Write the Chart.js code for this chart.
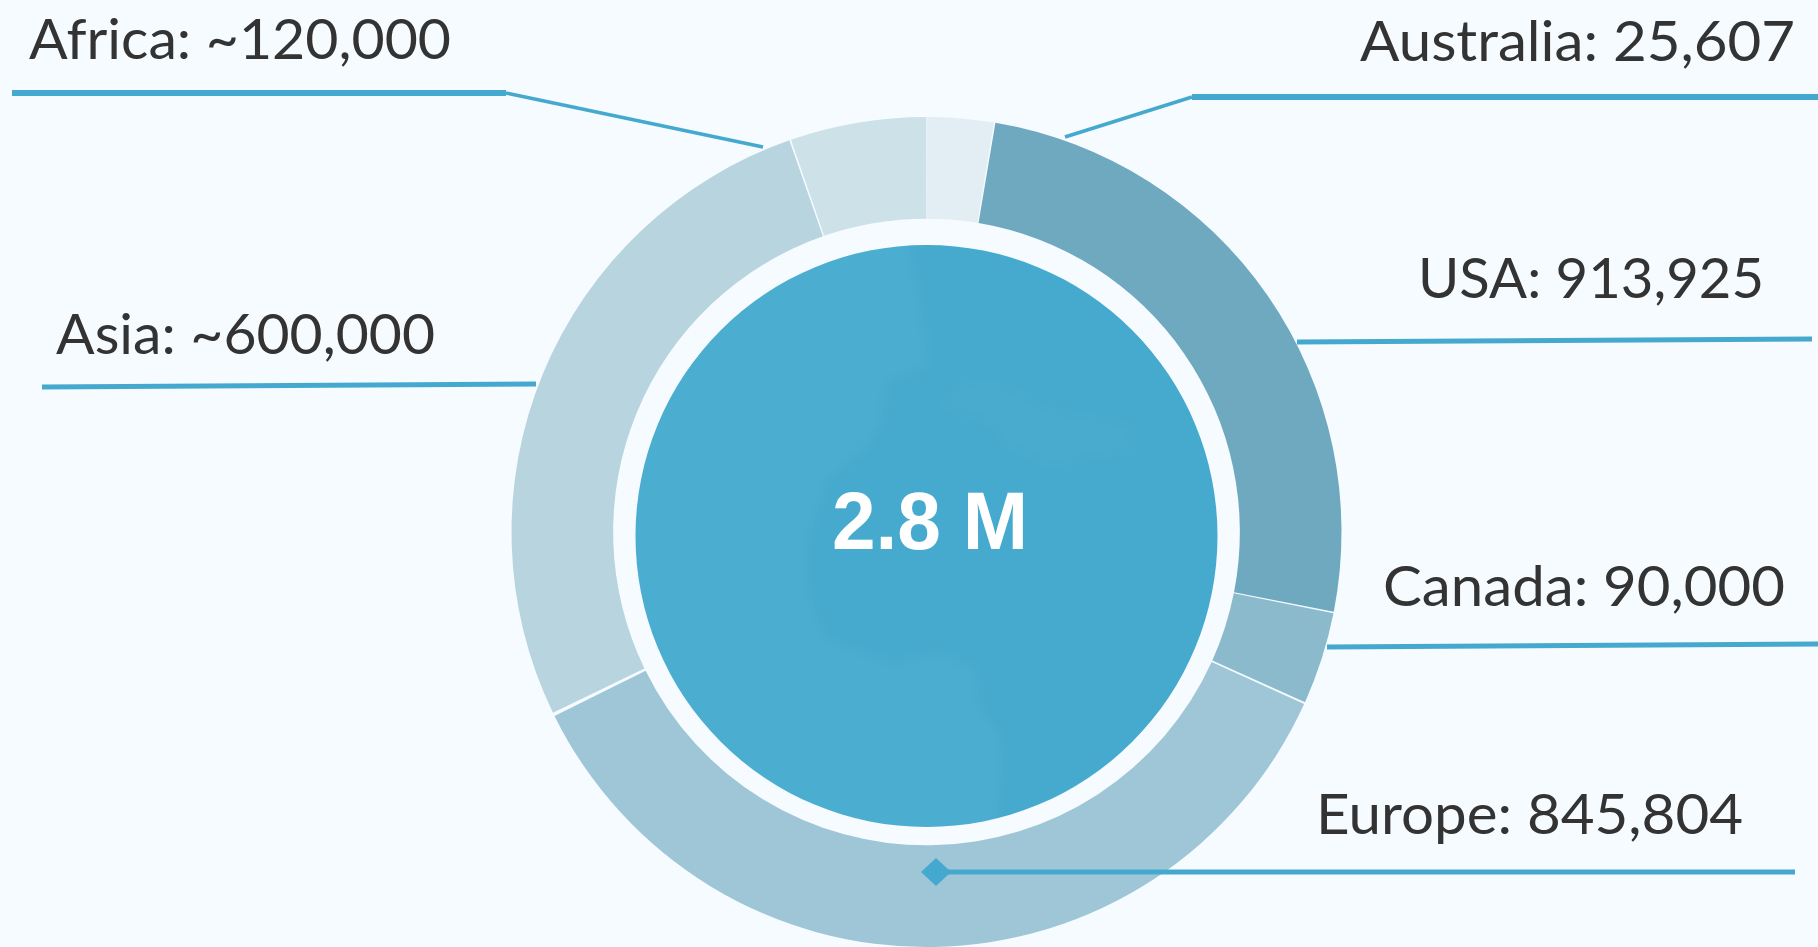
<!DOCTYPE html>
<html>
<head>
<meta charset="utf-8">
<title>2.8 M by region</title>
<script src="https://cdn.jsdelivr.net/npm/chart.js@4/dist/chart.umd.min.js"></script>
<style>
  html, body { margin: 0; padding: 0; background: #f5fbfe; overflow: hidden; }
  canvas { display: block; }
</style>
</head>
<body>
<canvas id="chart" width="1818" height="947"></canvas>
<script>
  const REGIONS = ["Australia", "USA", "Canada", "Europe", "Asia", "Africa"];
  // Arc shares as drawn in the picture (percent of the ring); they don't follow the printed numbers.
  const ARC_SHARES = [2.6, 25.5, 3.6, 36.0, 26.9, 5.3];
  const PRINTED_VALUES = ["25,607", "913,925", "90,000", "845,804", "~600,000", "~120,000"];
  const ARC_COLORS = ["#e3eef4", "#6fa9c0", "#8cbacd", "#9fc6d6", "#b8d4df", "#cde1e9"];
  const TOTAL_LABEL = "2.8 M";

  const LINE_COLOR = "#45a9cf";
  const TEXT_COLOR = "#333333";
  const DISC_COLOR = "#45aace";
  // The disc in the reference sits a little below the ring's centre.
  const DISC_NUDGE_Y = 4;

  // Callout geometry, same order as REGIONS. Text: left, right, baseline.
  const CALLOUT_TEXT = [
    [1360, 1795, 61], [1418, 1764, 298], [1383, 1785, 606],
    [1316, 1743, 834], [56, 435, 354], [29, 451, 59],
  ];
  const CALLOUT_LINES = [
    [[[1818, 97], [1192, 97]], [[1192, 97], [1065, 137]]],
    [[[1812, 339], [1297, 342]]],
    [[[1818, 644], [1327, 647]]],
    [[[1795, 872], [936, 872]]],
    [[[42, 387], [536, 384]]],
    [[[12, 93], [506, 93]], [[506, 93], [763, 147]]],
  ];
  const LINE_WIDTHS = [[6, 3.5], [5], [5], [5], [5], [6, 3.5]];
  const EUROPE_DIAMOND = { x: 936, y: 872, rx: 15, ry: 14 };
  const TOTAL_BOX = [832, 1028, 549];

  // Faint map behind the total, traced by eye.
  const MAP_OCEAN = [
    [600, 200], [900, 200], [923, 300], [931, 369], [888, 384], [885, 419], [869, 449], [830, 480],
    [811, 541], [811, 587], [826, 637], [892, 660], [939, 650], [978, 667], [982, 706],
    [1003, 736], [1005, 771], [994, 860], [600, 860],
  ];
  const MAP_SEA = [
    [935, 407], [962, 382], [1009, 384], [1048, 407], [1134, 422], [1134, 453], [1048, 468],
    [997, 442], [993, 426],
  ];

  function fitText(ctx, text, left, right, baseline) {
    const w = ctx.measureText(text).width;
    ctx.save();
    ctx.translate(left, baseline);
    ctx.scale((right - left) / w, 1);
    ctx.fillText(text, 0, 0);
    ctx.restore();
  }

  function fillShape(ctx, pts) {
    ctx.beginPath();
    pts.forEach((p, i) => (i ? ctx.lineTo(p[0], p[1]) : ctx.moveTo(p[0], p[1])));
    ctx.closePath();
    ctx.fill();
  }

  const mapPlugin = {
    id: "discMap",
    afterDatasetsUpdate(chart) {
      chart.getDatasetMeta(2).data[0].y += DISC_NUDGE_Y;
    },
    afterDatasetsDraw(chart) {
      const ctx = chart.ctx;
      const disc = chart.getDatasetMeta(2).data[0];
      ctx.save();
      ctx.beginPath();
      ctx.arc(disc.x, disc.y, disc.outerRadius, 0, Math.PI * 2);
      ctx.clip();
      ctx.filter = "blur(6px)";
      ctx.fillStyle = "rgba(255,255,255,0.035)";
      fillShape(ctx, MAP_OCEAN);
      ctx.fillStyle = "rgba(255,255,255,0.025)";
      fillShape(ctx, MAP_SEA);
      ctx.restore();
    },
  };

  const calloutPlugin = {
    id: "callouts",
    afterDraw(chart) {
      const ctx = chart.ctx;
      ctx.save();
      ctx.strokeStyle = LINE_COLOR;
      ctx.lineCap = "butt";
      CALLOUT_LINES.forEach((segments, i) => {
        segments.forEach((seg, j) => {
          ctx.lineWidth = LINE_WIDTHS[i][j];
          ctx.beginPath();
          ctx.moveTo(seg[0][0], seg[0][1]);
          ctx.lineTo(seg[1][0], seg[1][1]);
          ctx.stroke();
        });
      });

      const d = EUROPE_DIAMOND;
      ctx.fillStyle = LINE_COLOR;
      ctx.beginPath();
      ctx.moveTo(d.x - d.rx, d.y);
      ctx.lineTo(d.x, d.y - d.ry);
      ctx.lineTo(d.x + d.rx, d.y);
      ctx.lineTo(d.x, d.y + d.ry);
      ctx.closePath();
      ctx.fill();

      ctx.textAlign = "left";
      ctx.textBaseline = "alphabetic";
      ctx.fillStyle = TEXT_COLOR;
      ctx.font = '57px Lato';
      REGIONS.forEach((name, i) => {
        const t = CALLOUT_TEXT[i];
        fitText(ctx, `${name}: ${PRINTED_VALUES[i]}`, t[0], t[1], t[2]);
      });

      ctx.fillStyle = "#ffffff";
      ctx.font = 'bold 81px "Liberation Sans"';
      fitText(ctx, TOTAL_LABEL, TOTAL_BOX[0], TOTAL_BOX[1], TOTAL_BOX[2]);
      ctx.restore();
    },
  };

  new Chart(document.getElementById("chart"), {
    type: "doughnut",
    data: {
      labels: REGIONS,
      datasets: [
        { label: "Regions", data: ARC_SHARES, backgroundColor: ARC_COLORS, borderWidth: 0, spacing: 3, weight: 102 },
        { label: "Gap", data: [1], backgroundColor: "rgba(0,0,0,0)", borderWidth: 0, weight: 22 },
        { label: "Total", data: [1], backgroundColor: DISC_COLOR, borderWidth: 0, weight: 291 },
      ],
    },
    options: {
      responsive: false,
      animation: false,
      cutout: 0,
      rotation: 0,
      layout: { padding: { top: 117, bottom: -3, left: 35, right: 0 } },
      plugins: { legend: { display: false }, tooltip: { enabled: false } },
    },
    plugins: [mapPlugin, calloutPlugin],
  });
</script>
</body>
</html>
